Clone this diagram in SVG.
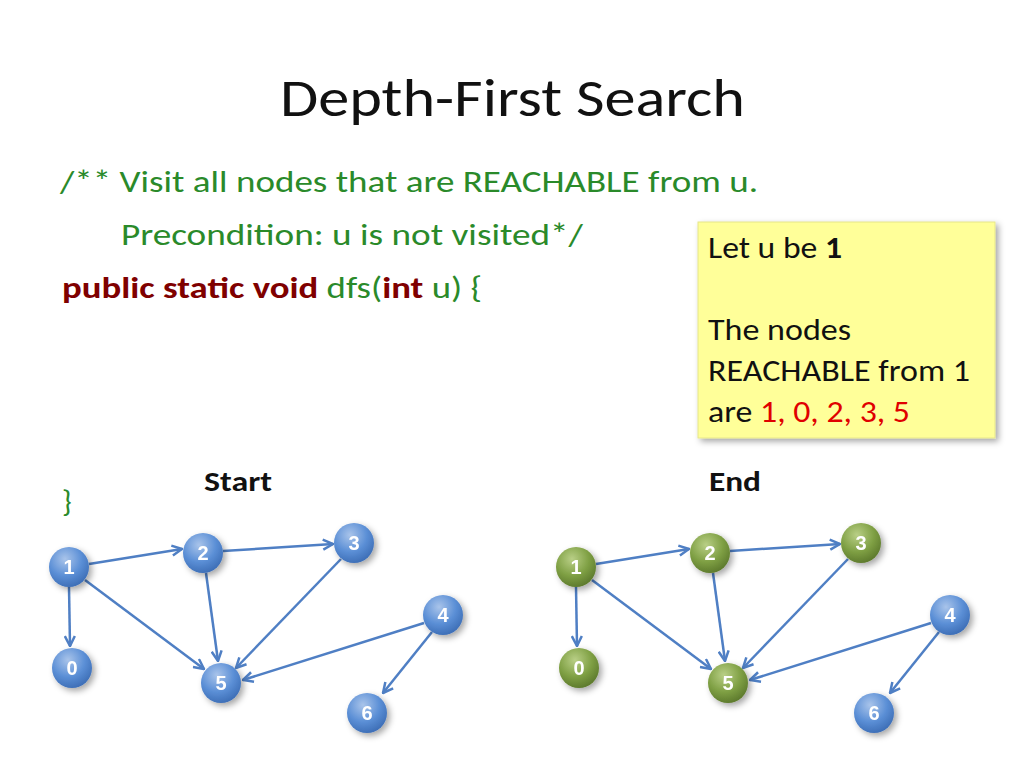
<svg xmlns="http://www.w3.org/2000/svg" width="1024" height="768" viewBox="0 0 1024 768">
<defs>
<radialGradient id="gb" cx="40%" cy="30%" r="70%"><stop offset="0" stop-color="#a9c4ea"/><stop offset="0.6" stop-color="#5b8fd6"/><stop offset="1" stop-color="#3f70b8"/></radialGradient>
<radialGradient id="gg" cx="40%" cy="30%" r="70%"><stop offset="0" stop-color="#b9cf86"/><stop offset="0.6" stop-color="#7fa044"/><stop offset="1" stop-color="#5f7c2e"/></radialGradient>
<marker id="ah" viewBox="0 0 10 10" refX="9" refY="5" markerWidth="5" markerHeight="5" orient="auto" markerUnits="strokeWidth"><path d="M1,1 L9,5 L1,9" fill="none" stroke="#4f7fc4" stroke-width="2"/></marker>
<filter id="sh" x="-10%" y="-10%" width="130%" height="130%"><feDropShadow dx="3" dy="3" stdDeviation="3" flood-opacity="0.35"/></filter>
</defs>
<style>
.t{font-family:Calibri,Carlito,"Liberation Sans",sans-serif}
.code{font-size:31px;fill:#2a8a2a}
.kw{fill:#7f0000;font-weight:bold}
.nt{font-size:30px;fill:#111}
.e{stroke:#4f7fc4;stroke-width:2.5;fill:none;marker-end:url(#ah)}
.nl{font-family:"Liberation Sans",sans-serif;font-size:20px;font-weight:bold;fill:#fff;text-anchor:middle}
</style>
<rect width="1024" height="768" fill="#fff"/>
<text class="t" x="280" y="116" font-size="54" fill="#111" textLength="465" lengthAdjust="spacingAndGlyphs">Depth-First Search</text>
<text class="t code" x="60" y="192" textLength="698" lengthAdjust="spacingAndGlyphs">/** Visit all nodes that are REACHABLE from u.</text>
<text class="t code" x="121" y="245" textLength="462" lengthAdjust="spacingAndGlyphs">Precondition: u is not visited*/</text>
<text class="t code" x="62" y="298" fill="#7f0000" textLength="420" lengthAdjust="spacingAndGlyphs"><tspan class="kw">public static void</tspan> dfs(<tspan class="kw">int</tspan> u) {</text>
<text class="t code" x="62" y="512">}</text>
<g id="note">
<rect x="698" y="222" width="297" height="216" fill="#ffff99" stroke="#e6e68a" filter="url(#sh)"/>
<text class="t nt" x="708" y="258" textLength="134" lengthAdjust="spacingAndGlyphs">Let u be <tspan font-weight="bold">1</tspan></text>
<text class="t nt" x="708" y="340" textLength="143" lengthAdjust="spacingAndGlyphs">The nodes</text>
<text class="t nt" x="708" y="381" textLength="262" lengthAdjust="spacingAndGlyphs">REACHABLE from 1</text>
<text class="t nt" x="708" y="422" textLength="202" lengthAdjust="spacingAndGlyphs">are <tspan fill="#e00000">1, 0, 2, 3, 5</tspan></text>
</g>
<text class="t" x="204" y="491" font-size="29" font-weight="bold" fill="#111" textLength="68" lengthAdjust="spacingAndGlyphs">Start</text>
<text class="t" x="709" y="491" font-size="29" font-weight="bold" fill="#111" textLength="52" lengthAdjust="spacingAndGlyphs">End</text>
<g id="edges">
<g id="e1">
<path class="e" d="M89,564 L182,549"/>
<path class="e" d="M223,551 L333,544"/>
<path class="e" d="M69,587 L70,646"/>
<path class="e" d="M85,580 L204,669"/>
<path class="e" d="M206,573 L218,661"/>
<path class="e" d="M341,559 L236,668"/>
<path class="e" d="M424,623 L243,680"/>
<path class="e" d="M432,632 L383,693"/>
</g>
<g id="e2" transform="translate(507,0)">
<path class="e" d="M89,564 L182,549"/>
<path class="e" d="M223,551 L333,544"/>
<path class="e" d="M69,587 L70,646"/>
<path class="e" d="M85,580 L204,669"/>
<path class="e" d="M206,573 L218,661"/>
<path class="e" d="M341,559 L236,668"/>
<path class="e" d="M424,623 L243,680"/>
<path class="e" d="M432,632 L383,693"/>
</g>
</g>
<g filter="url(#sh)">
<g id="s1"><circle cx="69" cy="567" r="20" fill="url(#gb)"/><text class="nl" x="69" y="574">1</text></g>
<g id="s2"><circle cx="203" cy="553" r="20" fill="url(#gb)"/><text class="nl" x="203" y="560">2</text></g>
<g id="s3"><circle cx="354" cy="543" r="20" fill="url(#gb)"/><text class="nl" x="354" y="550">3</text></g>
<g id="s4"><circle cx="443" cy="615" r="20" fill="url(#gb)"/><text class="nl" x="443" y="622">4</text></g>
<g id="s0"><circle cx="72" cy="668" r="20" fill="url(#gb)"/><text class="nl" x="72" y="675">0</text></g>
<g id="s5"><circle cx="221" cy="683" r="20" fill="url(#gb)"/><text class="nl" x="221" y="690">5</text></g>
<g id="s6"><circle cx="367" cy="713" r="20" fill="url(#gb)"/><text class="nl" x="367" y="720">6</text></g>
<g id="n1"><circle cx="576" cy="567" r="20" fill="url(#gg)"/><text class="nl" x="576" y="574">1</text></g>
<g id="n2"><circle cx="710" cy="553" r="20" fill="url(#gg)"/><text class="nl" x="710" y="560">2</text></g>
<g id="n3"><circle cx="861" cy="543" r="20" fill="url(#gg)"/><text class="nl" x="861" y="550">3</text></g>
<g id="n4"><circle cx="950" cy="615" r="20" fill="url(#gb)"/><text class="nl" x="950" y="622">4</text></g>
<g id="n0"><circle cx="579" cy="668" r="20" fill="url(#gg)"/><text class="nl" x="579" y="675">0</text></g>
<g id="n5"><circle cx="728" cy="683" r="20" fill="url(#gg)"/><text class="nl" x="728" y="690">5</text></g>
<g id="n6"><circle cx="874" cy="713" r="20" fill="url(#gb)"/><text class="nl" x="874" y="720">6</text></g>
</g>
</svg>
